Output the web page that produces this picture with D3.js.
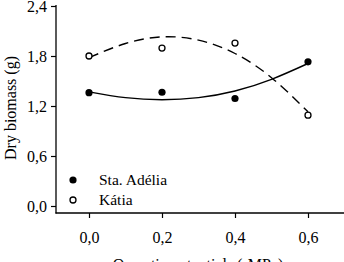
<!DOCTYPE html>
<html>
<head>
<script src="https://cdnjs.cloudflare.com/ajax/libs/d3/7.8.5/d3.min.js"></script>
<style>
  body { margin: 0; background: #fff; }
</style>
</head>
<body>
<div id="chart"></div>
<script>
// measured values
var potentials = [0, 0.2, 0.4, 0.6];
var adelia = [1.36, 1.365, 1.29, 1.73];
var katia = [1.80, 1.895, 1.955, 1.09];

// fitted trend curves
var trendX = [0, 0.1, 0.2, 0.3, 0.4, 0.5, 0.6];
var adeliaTrend = [1.37, 1.30, 1.275, 1.30, 1.38, 1.52, 1.71];
var katiaTrend = [1.78, 1.95, 2.03, 1.99, 1.83, 1.54, 1.13];

var xTicks = [0, 0.2, 0.4, 0.6];
var yTicks = [0, 0.6, 1.2, 1.8, 2.4];
var legendNames = ["Sta. Adélia", "Kátia"];

var FONT = "Liberation Serif";
var W = 344, H = 262;
var svg = d3.select("#chart").append("svg")
  .attr("width", W).attr("height", H);

var x = d3.scaleLinear().domain([0, 0.6]).range([89, 308]);
var y = d3.scaleLinear().domain([0, 2.4]).range([206, 6]);
var fmt = function(d) { return d3.format(".1f")(d).replace(".", ","); };

// y axis
var yAxis = d3.axisLeft(y).tickValues(yTicks).tickFormat(fmt).tickSize(5).tickPadding(4);
var gy = svg.append("g").attr("transform", "translate(56,0)").call(yAxis);
gy.select(".domain").remove();
gy.append("line").attr("x1", 0).attr("x2", 0).attr("y1", 5).attr("y2", 213.5)
  .attr("stroke", "#000").attr("stroke-width", 1.3);

// x axis
var xAxis = d3.axisBottom(x).tickValues(xTicks).tickFormat(fmt).tickSize(5).tickPadding(14);
var gx = svg.append("g").attr("transform", "translate(0,213)").call(xAxis);
gx.select(".domain").remove();
gx.append("line").attr("x1", 55.5).attr("x2", W).attr("y1", 0).attr("y2", 0)
  .attr("stroke", "#000").attr("stroke-width", 1.3);

gy.attr("font-family", FONT).attr("font-size", 16);
gx.attr("font-family", FONT).attr("font-size", 16);
svg.selectAll(".tick line").attr("stroke", "#000").attr("stroke-width", 1.2);
svg.selectAll(".tick text").attr("fill", "#000");

// axis titles
svg.append("text")
  .attr("transform", "translate(16,108) rotate(-90)")
  .attr("text-anchor", "middle")
  .attr("font-family", FONT).attr("font-size", 16)
  .text("Dry biomass (g)");
svg.append("text")
  .attr("x", 198).attr("y", 270)
  .attr("text-anchor", "middle")
  .attr("font-family", FONT).attr("font-size", 16)
  .text("Osmotic potentials (-MPa)");

// trend curves
var line = d3.line()
  .x(function(d, i) { return x(trendX[i]); })
  .y(function(d) { return y(d); })
  .curve(d3.curveNatural);

svg.append("path").datum(adeliaTrend).attr("d", line)
  .attr("fill", "none").attr("stroke", "#000").attr("stroke-width", 1.4);
svg.append("path").datum(katiaTrend).attr("d", line)
  .attr("fill", "none").attr("stroke", "#000").attr("stroke-width", 1.4)
  .attr("stroke-dasharray", "10,6");

// points
svg.selectAll("circle.adelia").data(adelia).enter().append("circle")
  .attr("class", "adelia")
  .attr("cx", function(d, i) { return x(potentials[i]); })
  .attr("cy", function(d) { return y(d); })
  .attr("r", 3.6).attr("fill", "#000");
svg.selectAll("circle.katia").data(katia).enter().append("circle")
  .attr("class", "katia")
  .attr("cx", function(d, i) { return x(potentials[i]); })
  .attr("cy", function(d) { return y(d); })
  .attr("r", 3).attr("fill", "#fff").attr("stroke", "#000").attr("stroke-width", 1.3);

// legend
var leg = svg.append("g");
legendNames.forEach(function(name, i) {
  var cy = 180 + i * 20;
  leg.append("circle").attr("cx", 73).attr("cy", cy)
    .attr("r", i == 0 ? 3.6 : 3)
    .attr("fill", i == 0 ? "#000" : "#fff")
    .attr("stroke", "#000").attr("stroke-width", i == 0 ? 0 : 1.3);
  leg.append("text").attr("x", 99).attr("y", cy + 5)
    .attr("font-family", FONT).attr("font-size", 15.5).text(name);
});
</script>
</body>
</html>
